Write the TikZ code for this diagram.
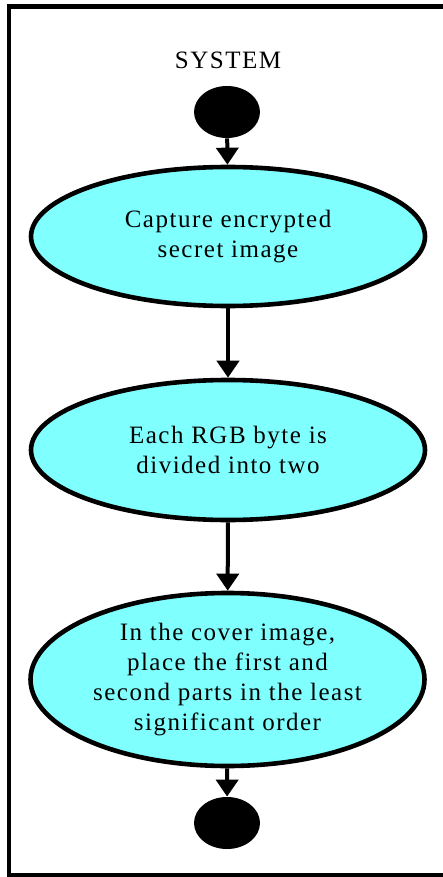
\documentclass[tikz,border=0pt]{standalone}
\usepackage{fontspec}
\setmainfont{Liberation Serif}[LetterSpace=6]
\usetikzlibrary{shapes.geometric,arrows.meta}
\definecolor{cAct}{HTML}{80FFFF}

\begin{document}
\begin{tikzpicture}[
  x=0.5pt, y=-0.5pt,
  font=\fontsize{12.5}{15}\selectfont,
  act/.style ={ellipse, draw=black, fill=cAct, line width=2.3pt,
               inner sep=0pt, align=center, minimum width=197pt},
  dot/.style ={ellipse, fill=black, inner sep=0pt,
               minimum width=33pt, minimum height=26pt},
  ar/.style  ={-{Triangle[length=8.5pt,width=11pt]}, line width=2pt},
  lane/.style={line width=2.3pt},
]
\useasboundingbox (0,0) rectangle (443,877);

% swimlane border, open on the right
\draw[lane] (470,6.5) -| (9,875) -- (470,875);

\node (title) at (228,60) {SYSTEM};

\node[dot] (start) at (227,112) {};
\node[act, minimum height=69.5pt] (a1) at (228,236.5)
  {Capture encrypted\\secret image};
\node[act, minimum height=70pt]   (a2) at (228,450)
  {Each RGB byte is\\divided into two};
\node[act, minimum height=86.5pt] (a3) at (227.5,679.5)
  {In the cover image,\\place the first and\\second parts in the least\\significant order};
\node[dot] (stop) at (227,823) {};

\foreach \u/\v in {start/a1,a1/a2,a2/a3,a3/stop}{\draw[ar] (\u) -- (\v);}
\end{tikzpicture}
\end{document}
